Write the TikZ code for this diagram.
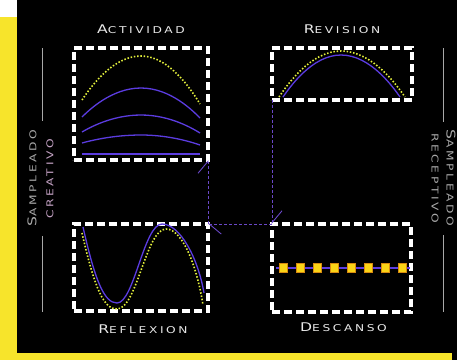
\documentclass[tikz,border=0pt]{standalone}
\usepackage{fontspec}
\newfontfamily\capsfont[LetterSpace=28, FakeStretch=1.3]{DejaVu Sans}
\usepackage{tikz}
\usetikzlibrary{arrows.meta, positioning}
\definecolor{bgyellow}{HTML}{F7E42B}
\definecolor{labelwhite}{HTML}{E8E8E8}
\definecolor{wavepurple}{HTML}{5B3CE0}
\definecolor{flowpurple}{HTML}{6A48C8}
\definecolor{dotyellow}{HTML}{E4F03C}
\definecolor{restyellow}{HTML}{FAD416}
\definecolor{restorange}{HTML}{D88A10}
\definecolor{sidegray}{HTML}{A8A8A8}
\definecolor{sidemauve}{HTML}{C2A0C2}
\newcommand\capword[2]{{\fontsize{12}{12}\selectfont #1}{\fontsize{9.4}{10}\selectfont #2}}
\tikzset{
    panel/.style={rectangle, draw=white, line width=3.6pt, dash pattern=on 8pt off 4pt, inner sep=0pt, outer sep=0pt},
    title/.style={font=\capsfont, text=labelwhite, inner sep=0pt},
    side/.style={font=\capsfont, inner sep=0pt},
    wave/.style={wavepurple, line width=1.3pt},
    trace/.style={dotyellow, line width=1.6pt, dash pattern=on 1.5pt off 1.8pt},
    flow/.style={flowpurple, line width=0.9pt, dash pattern=on 3pt off 2pt, -{Straight Barb[harpoon, length=12pt, width=20pt]}},
    rule/.style={sidegray, line width=0.8pt}
}
\begin{document}
\begin{tikzpicture}[x=1pt, y=-1pt, node distance=14pt]
    \useasboundingbox (0,0) rectangle (457,360);
    \fill[bgyellow] (0,0) rectangle (457,360);
    \fill[white] (0,0) rectangle (17,17);
    \fill[black] (17,0) rectangle (457,353);
    \fill[black] (452,353) rectangle (457,360);

    \node (actividad) [panel, minimum width=134pt, minimum height=112pt] at (141,104) {};
    \node (revision) [panel, minimum width=140pt, minimum height=52pt] at (342,74) {};
    \node (reflexion) [panel, minimum width=134pt, minimum height=87pt] at (141,267.5) {};
    \node (descanso) [panel, minimum width=139pt, minimum height=88pt] at (341.5,268) {};

    \node (lblact) [title, above=of actividad] {\capword{A}{CTIVIDAD}};
    \node (lblrev) [title, above=of revision] {\capword{R}{EVISION}};
    \node (lblrefl) [title, below=of reflexion, xshift=2pt] {\capword{R}{EFLEXION}};
    \node (lbldesc) [title, below=11pt of descanso, xshift=2pt] {\capword{D}{ESCANSO}};

    \node (sampleadoL) [side, text=sidegray, rotate=90] at (32,178) {\capword{S}{AMPLEADO}};
    \node (creativo) [side, text=sidemauve, rotate=90] at (50,179) {\capword{}{CREATIVO}};
    \node (receptivo) [side, text=sidegray, rotate=-90] at (435,178) {\capword{}{RECEPTIVO}};
    \node (sampleadoR) [side, text=sidegray, rotate=-90] at (451,178) {\capword{S}{AMPLEADO}};
    \draw[rule] (42,48) -- (42,121);
    \draw[rule] (42,236) -- (42,312);
    \draw[rule] (443,48) -- (443,122);
    \draw[rule] (443,235) -- (443,312);

    \draw[trace] (82,100) parabola bend (141,56) (200,104);
    \draw[wave] (82,117) parabola bend (141,88) (200,118);
    \draw[wave] (82,132) parabola bend (141,115) (200,133);
    \draw[wave] (82,143) parabola bend (141,135) (200,145);
    \draw[wave] (82,154) -- (200,154);

    \draw[trace] (279,97) parabola bend (341,51) (405,97);
    \draw[wave] (283,97) parabola bend (341,55) (400,97);

    \draw[trace] (82,233) .. controls (95,290) and (104,309) .. (117,309) .. controls (137,309) and (146,229) .. (166,229) .. controls (184,229) and (198,272) .. (203,305);
    \draw[wave] (83,227) .. controls (95,280) and (104,303) .. (117,303) .. controls (134,303) and (144,224) .. (162,224) .. controls (180,224) and (198,258) .. (204,293);

    \draw[wave] (276,268) -- (410,268);
    \foreach \i in {0,...,7}
        \filldraw[fill=restyellow, draw=restorange, line width=0.8pt] (279+17*\i,263.5) rectangle ++(8,9);

    \draw[flow] (revision.south west) -- (descanso.north west);
    \draw[flow] (descanso.north west) -- (reflexion.north east);
    \draw[flow] (reflexion.north east) -- (actividad.south east);
\end{tikzpicture}
\end{document}
